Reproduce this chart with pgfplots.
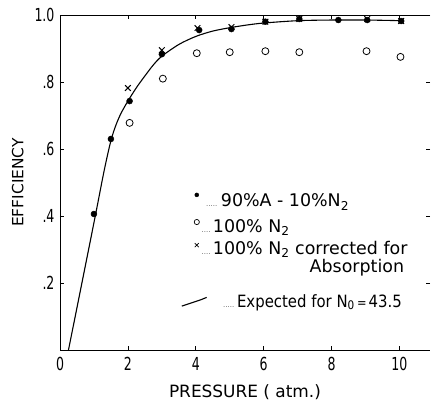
\documentclass[border=0pt]{standalone}
\usepackage{pgfplots}
\pgfplotsset{compat=1.18}
\usepackage{fontspec}
\setmainfont{DejaVu Sans}
\newfontfamily\tickfont{DejaVu Sans}[FakeStretch=0.7]
\newfontfamily\narrowfont{DejaVu Sans}[FakeStretch=0.88]

\begin{document}
\begin{tikzpicture}
\begin{axis}[width=370bp,height=335bp,scale only axis,
  xmin=0,xmax=10.9,ymin=0,ymax=1,
  xtick={0,2,4,6,8,10},xticklabels={0,2,4,6,8,10},
  ytick={0.2,0.4,0.6,0.8,1.0},yticklabels={.2,.4,.6,.8,1.0},
  /pgf/number format/assume math mode=true,
  tick align=inside,major tick length=4bp,
  tick label style={font=\tickfont\fontsize{18}{19}\selectfont},
  xticklabel style={yshift=-4bp},
  yticklabel style={xshift=-2bp},
  xlabel={PRESSURE ( atm.)},ylabel={EFFICIENCY},
  xlabel style={font=\fontsize{17}{18}\selectfont,yshift=-7bp},
  ylabel style={font=\fontsize{15.5}{16}\selectfont,yshift=4bp},
  axis line style={draw=none},
  every tick/.style={black,line width=0.6pt},
  clip=false]

% frame: left, bottom and top only
\draw[line width=0.8pt] (rel axis cs:1,1) -- (rel axis cs:0,1)
  -- (rel axis cs:0,0) -- (rel axis cs:1,0);

% expected curve, N0 = 43.5
\addplot[black,line width=1.1pt,smooth,tension=0.5] coordinates {
  (0.25,0)(1.0,0.38)(1.3,0.535)(1.5,0.625)(1.65,0.672)(1.8,0.707)
  (2,0.743)(2.25,0.783)(2.5,0.818)(2.75,0.851)(3,0.877)(3.5,0.912)
  (4,0.936)(4.5,0.952)(5,0.962)(5.5,0.970)(6,0.976)(7,0.983)
  (8,0.985)(9,0.985)(10.06,0.983)};

% 90% A - 10% N2
\addplot[only marks,mark=*,mark size=3bp,black] coordinates {
  (1,0.406)(1.5,0.63)(2.05,0.743)(3,0.883)(4.1,0.955)(5.05,0.958)
  (6.05,0.98)(7.05,0.988)(8.2,0.985)(9.05,0.985)(10.05,0.982)};

% 100% N2
\addplot[only marks,mark=o,mark size=3.5bp,black,line width=0.8pt] coordinates {
  (2.05,0.678)(3.03,0.81)(4.03,0.886)(5,0.889)(6.05,0.892)(7.05,0.889)
  (9.03,0.892)(10.03,0.875)};

% 100% N2 corrected for absorption
\addplot[only marks,mark=x,mark size=4bp,black,line width=1pt] coordinates {
  (2,0.782)(3,0.895)(4.05,0.961)(5.05,0.964)(6.05,0.98)(7.05,0.988)
  (9.05,0.988)(10.05,0.982)};

% legend keys
\addplot[only marks,mark=*,mark size=2bp,black,forget plot]
  coordinates {(4.03,0.463)};
\addplot[only marks,mark=o,mark size=2.6bp,black,line width=0.7pt,forget plot]
  coordinates {(4.03,0.382)};
\addplot[only marks,mark=x,mark size=2.8bp,black,line width=0.7pt,forget plot]
  coordinates {(4.03,0.313)};
\addplot[black,line width=1.1pt,forget plot]
  coordinates {(3.59,0.131)(4.15,0.150)(4.32,0.157)};

% legend text
\begin{scope}[every node/.style={inner sep=0pt,font=\fontsize{17.5}{19}\selectfont}]
\node[anchor=base west] at (axis cs:4.735,0.427) {90\%A - 10\%N\textsubscript{2}};
\node[anchor=base west] at (axis cs:4.5,0.352) {100\% N\textsubscript{2}};
\node[anchor=base west] at (axis cs:4.5,0.284) {100\% N\textsubscript{2} corrected for};
\node[anchor=base west] at (axis cs:7.35,0.230) {Absorption};
\node[anchor=base west,font=\narrowfont\fontsize{17}{19}\selectfont]
  at (axis cs:5.21,0.128) {Expected for N\textsubscript{0}{\fontsize{13}{13}\selectfont\,=\,}43.5};
\end{scope}
\begin{scope}[every node/.style={inner sep=0pt,font=\fontsize{7}{7}\selectfont,gray!70!black}]
\node[anchor=base east] at (axis cs:4.64,0.427) {.....};
\node[anchor=base east] at (axis cs:4.44,0.352) {....};
\node[anchor=base east] at (axis cs:4.44,0.284) {....};
\node[anchor=base east] at (axis cs:5.14,0.128) {.....};
\end{scope}
\end{axis}
\path (-60bp,-53bp) rectangle (372bp,350bp);
\end{tikzpicture}
\end{document}
